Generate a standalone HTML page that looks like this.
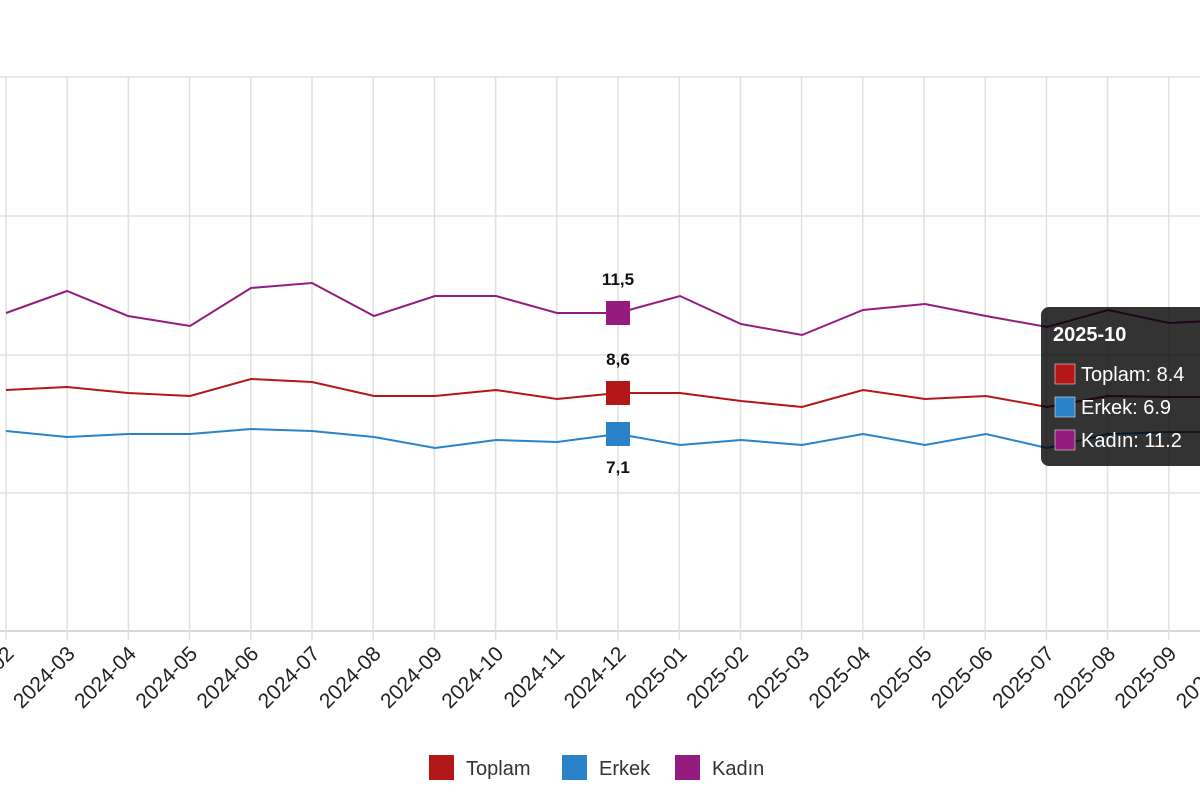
<!DOCTYPE html>
<html><head><meta charset="utf-8"><style>
body{margin:0;background:#fff;width:1200px;height:800px;overflow:hidden;font-family:"Liberation Sans",sans-serif}
</style></head><body>
<svg width="1200" height="800" xmlns="http://www.w3.org/2000/svg" font-family="Liberation Sans, sans-serif">
<g stroke="#e0e0e0" stroke-width="1.5">
<line x1="0" y1="77" x2="1200" y2="77"/><line x1="0" y1="216" x2="1200" y2="216"/><line x1="0" y1="355" x2="1200" y2="355"/><line x1="0" y1="493" x2="1200" y2="493"/>
</g>
<line x1="0" y1="631" x2="1200" y2="631" stroke="#ccc" stroke-width="1.5"/>
<g stroke="#e0e0e0" stroke-width="1.5" id="v"></g>
<polyline fill="none" stroke="#951b81" stroke-width="2" points="6,313 67,291 128,316 190,326 251,288 312,283 374,316 435,296 496,296 557,313 618,313 680,296 741,324 802,335 863,310 925,304 986,316 1047,327 1108,310 1169,323 1230,320"/>
<polyline fill="none" stroke="#b31717" stroke-width="2" points="6,390 67,387 128,393 190,396 251,379 312,382 374,396 435,396 496,390 557,399 618,393 680,393 741,401 802,407 863,390 925,399 986,396 1047,407 1108,396 1169,397 1230,397"/>
<polyline fill="none" stroke="#2a82c9" stroke-width="2" points="6,431 67,437 128,434 190,434 251,429 312,431 374,437 435,448 496,440 557,442 618,434 680,445 741,440 802,445 863,434 925,445 986,434 1047,448 1108,434 1169,432 1230,432"/>
<rect x="606" y="301" width="24" height="24" fill="#951b81"/>
<rect x="606" y="381" width="24" height="24" fill="#b31717"/>
<rect x="606" y="422" width="24" height="24" fill="#2a82c9"/>
<g font-size="17" font-weight="bold" text-anchor="middle" fill="#111">
<text x="618" y="285">11,5</text><text x="618" y="365">8,6</text><text x="618" y="473">7,1</text>
</g>
<g id="xl" font-size="21" fill="#222" text-anchor="end"></g>
<rect x="1041" y="307" width="180" height="159" rx="8" fill="rgba(0,0,0,0.8)"/>
<text x="1053" y="341" font-size="20" font-weight="bold" fill="#fff">2025-10</text>
<rect x="1055" y="364" width="20" height="20" fill="#b31717" stroke="#fff" stroke-width="0.5"/>
<rect x="1055" y="397" width="20" height="20" fill="#2a82c9" stroke="#fff" stroke-width="0.5"/>
<rect x="1055" y="430" width="20" height="20" fill="#951b81" stroke="#fff" stroke-width="0.5"/>
<g font-size="20" fill="#fff"><text x="1081" y="381">Toplam: 8.4</text><text x="1081" y="414">Erkek: 6.9</text><text x="1081" y="447">Kadın: 11.2</text></g>
<rect x="429" y="755" width="25" height="25" fill="#b31717"/><text x="466" y="775" font-size="20" fill="#333">Toplam</text>
<rect x="562" y="755" width="25" height="25" fill="#2a82c9"/><text x="599" y="775" font-size="20" fill="#333">Erkek</text>
<rect x="675" y="755" width="25" height="25" fill="#951b81"/><text x="712" y="775" font-size="20" fill="#333">Kadın</text>
</svg>
<script>
var v=document.getElementById('v'),xl=document.getElementById('xl'),ns='http://www.w3.org/2000/svg';
var labs=['2024-02','2024-03','2024-04','2024-05','2024-06','2024-07','2024-08','2024-09','2024-10','2024-11','2024-12','2025-01','2025-02','2025-03','2025-04','2025-05','2025-06','2025-07','2025-08','2025-09','2025-10'];
for(var i=0;i<labs.length;i++){var x=6+61.2*i;
var l=document.createElementNS(ns,'line');l.setAttribute('x1',x);l.setAttribute('x2',x);l.setAttribute('y1',77);l.setAttribute('y2',640);v.appendChild(l);
var t=document.createElementNS(ns,'text');t.setAttribute('transform','translate('+(x+9)+',655) rotate(-45)');t.textContent=labs[i];xl.appendChild(t);}
</script>
</body></html>
